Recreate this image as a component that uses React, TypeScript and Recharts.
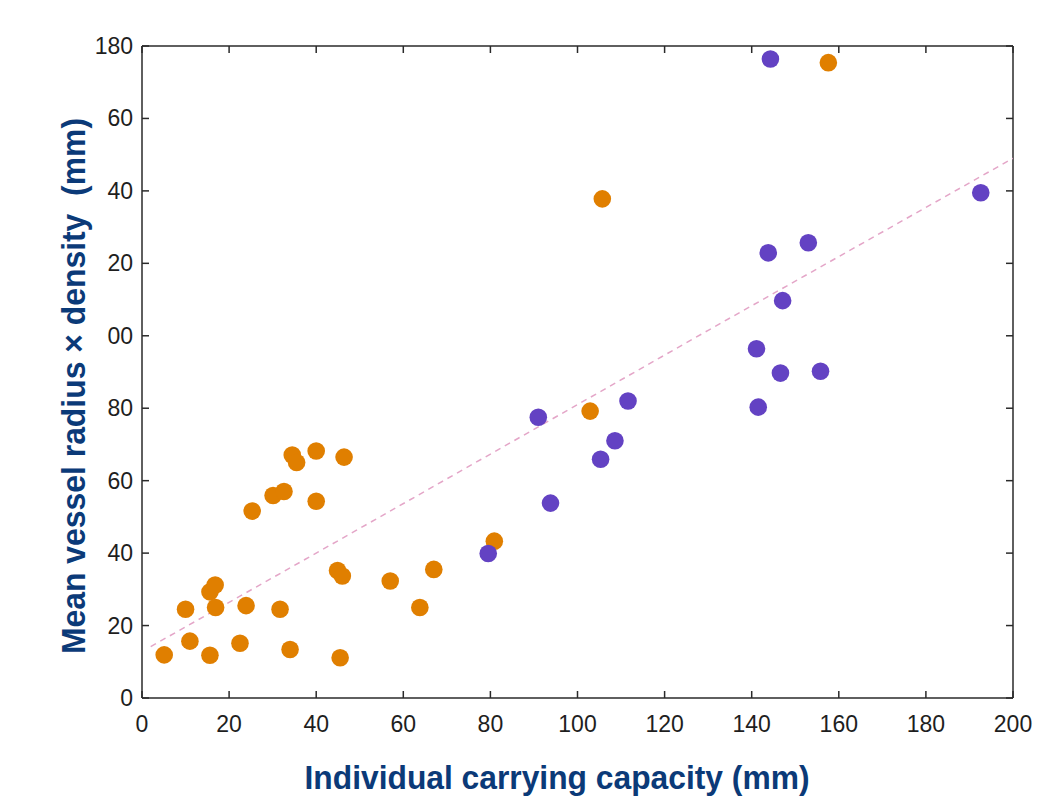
import React from 'react';
import { ScatterChart, Scatter, XAxis, YAxis } from 'recharts';

const X_TICKS = [0, 20, 40, 60, 80, 100, 120, 140, 160, 180, 200];
const Y_TICKS = [0, 20, 40, 60, 80, 100, 120, 140, 160, 180];
// labels as printed in the figure (the leading "1" is clipped on 100-160)
const Y_TICK_LABELS = ['0', '20', '40', '60', '80', '00', '20', '40', '60', '180'];

const orangeX = [5.1, 10.0, 11.0, 15.6, 15.6, 16.8, 16.9, 22.5, 23.9, 25.3, 30.1, 32.6, 31.7, 34.0, 34.5, 35.5, 40.0, 40.0, 46.4, 44.9, 46.0, 45.5, 57.0, 63.8, 67.0, 80.9, 102.9, 105.7, 157.6];
const orangeY = [11.9, 24.5, 15.7, 11.8, 29.3, 31.2, 25.0, 15.1, 25.5, 51.6, 55.9, 57.0, 24.5, 13.4, 67.1, 65.0, 68.2, 54.3, 66.5, 35.2, 33.7, 11.1, 32.3, 25.0, 35.5, 43.3, 79.2, 137.8, 175.4];

const purpleX = [79.5, 91.0, 93.8, 105.3, 108.6, 111.6, 141.1, 141.5, 146.6, 155.8, 144.3, 192.6, 143.8, 153.0, 147.1];
const purpleY = [39.9, 77.5, 53.8, 65.9, 71.0, 82.0, 96.4, 80.3, 89.7, 90.2, 176.4, 139.5, 122.9, 125.7, 109.7];

const trendX = [2, 40, 70, 130, 200];
const trendY = [14.2, 40, 60.5, 101.5, 149];

const toPoints = (xs: number[], ys: number[]) => xs.map((x, i) => ({ x, y: ys[i] }));

const orange = toPoints(orangeX, orangeY);
const purple = toPoints(purpleX, purpleY);
const trend = toPoints(trendX, trendY);

const AXIS = '#2a2a2a';
const TICK_FONT = { fontFamily: '"Liberation Sans", Arial, sans-serif', fontSize: 23, fill: '#1e1e1e' };
const TITLE_COLOR = '#0b3a78';

const dot = (color: string) => (p: any) => <circle cx={p.cx} cy={p.cy} r={8.8} fill={color} />;

const BottomTick = (p: any) => (
  <g>
    <line x1={p.x} y1={p.y} x2={p.x} y2={p.y - 7} stroke={AXIS} strokeWidth={1.5} />
    <text x={p.x} y={p.y + 34} textAnchor="middle" {...TICK_FONT}>{p.payload.value}</text>
  </g>
);
const TopTick = (p: any) => (
  <line x1={p.x} y1={p.y} x2={p.x} y2={p.y + 7} stroke={AXIS} strokeWidth={1.5} />
);
const LeftTick = (p: any) => (
  <g>
    <line x1={p.x} y1={p.y} x2={p.x + 7} y2={p.y} stroke={AXIS} strokeWidth={1.5} />
    <text x={p.x - 9} y={p.y + 8} textAnchor="end" {...TICK_FONT}>
      {Y_TICK_LABELS[Y_TICKS.indexOf(p.payload.value)]}
    </text>
  </g>
);
const RightTick = (p: any) => (
  <line x1={p.x} y1={p.y} x2={p.x - 7} y2={p.y} stroke={AXIS} strokeWidth={1.5} />
);

export default function App() {
  return (
    <div style={{ position: 'absolute', left: 0, top: 0, background: '#fff' }}>
      <ScatterChart width={1057} height={809} margin={{ top: 45, right: 43, bottom: 71, left: 82 }}>
        <XAxis
          xAxisId="b" dataKey="x" type="number" domain={[0, 200]} ticks={X_TICKS}
          height={40} tickSize={0} tickMargin={0} tick={BottomTick}
          axisLine={{ stroke: AXIS, strokeWidth: 1.5 }} allowDataOverflow
          label={{
            content: () => (
              <text x={557} y={789} textAnchor="middle" textLength={505} lengthAdjust="spacingAndGlyphs"
                fontFamily='"Liberation Sans", Arial, sans-serif' fontWeight="bold" fontSize={33} fill={TITLE_COLOR}>
                Individual carrying capacity (mm)
              </text>
            ),
          }}
        />
        <XAxis
          xAxisId="t" dataKey="x" orientation="top" type="number" domain={[0, 200]} ticks={X_TICKS}
          height={1} tickSize={0} tickMargin={0} tick={TopTick}
          axisLine={{ stroke: AXIS, strokeWidth: 1.5 }} allowDataOverflow
        />
        <YAxis
          yAxisId="l" dataKey="y" type="number" domain={[0, 180]} ticks={Y_TICKS}
          width={60} tickSize={0} tickMargin={0} tick={LeftTick}
          axisLine={{ stroke: AXIS, strokeWidth: 1.5 }} allowDataOverflow
          label={{
            content: () => (
              <text x={0} y={0} transform="translate(85 386) rotate(-90)" textAnchor="middle"
                textLength={536} lengthAdjust="spacingAndGlyphs"
                fontFamily='"Liberation Sans", Arial, sans-serif' fontWeight="bold" fontSize={33} fill={TITLE_COLOR}
                style={{ whiteSpace: 'pre' }}>
                {'Mean vessel radius × density  (mm)'}
              </text>
            ),
          }}
        />
        <YAxis
          yAxisId="r" dataKey="y" orientation="right" type="number" domain={[0, 180]} ticks={Y_TICKS}
          width={1} tickSize={0} tickMargin={0} tick={RightTick}
          axisLine={{ stroke: AXIS, strokeWidth: 1.5 }} allowDataOverflow
        />
        {/* invisible series so the mirrored frame axes get drawn */}
        <Scatter xAxisId="t" yAxisId="r" data={trend} isAnimationActive={false} shape={() => <g />} />
        <Scatter
          xAxisId="b" yAxisId="l" data={trend} isAnimationActive={false}
          line={{ stroke: '#e4a6c8', strokeWidth: 1.5, strokeDasharray: '6 5' }}
          lineType="joint" shape={() => <g />}
        />
        <Scatter xAxisId="b" yAxisId="l" data={orange} isAnimationActive={false} shape={dot('#e07f00')} />
        <Scatter xAxisId="b" yAxisId="l" data={purple} isAnimationActive={false} shape={dot('#6342c3')} />
      </ScatterChart>
    </div>
  );
}
